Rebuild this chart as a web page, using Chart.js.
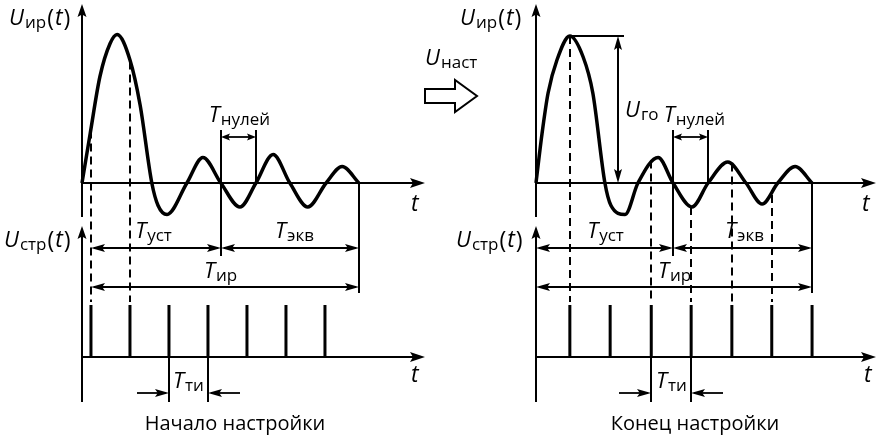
<!DOCTYPE html>
<html>
<head>
<meta charset="utf-8">
<script src="https://cdn.jsdelivr.net/npm/chart.js@4.4.0/dist/chart.umd.min.js"></script>
<style>
  html, body { margin: 0; padding: 0; background: #fff; }
</style>
</head>
<body>
<canvas id="chart" width="882" height="439"></canvas>
<script>
const INK = '#000';
const FONT = '"Open Sans", "Noto Sans", sans-serif';

// time is in pulse periods (T_ти), voltage is a fraction of U_го
const leftWaveT  = [0, 0.21, 0.46, 0.72, 0.90, 1.23, 1.49, 1.79, 1.95, 2.18, 2.69, 3.10, 3.56, 4.05, 4.46, 4.90, 5.33, 5.79, 6.26, 6.67, 7.10];
const leftWaveU  = [0, 0.33, 0.71, 0.93, 0.99, 0.82, 0.52, 0, -0.15, -0.21, 0, 0.17, 0, -0.16, 0, 0.19, 0, -0.16, 0, 0.11, 0];
const rightWaveT = [0, 0.15, 0.30, 0.52, 0.84, 1.17, 1.41, 1.71, 1.86, 2.21, 2.53, 3.03, 3.40, 3.87, 4.27, 4.76, 5.21, 5.61, 6.00, 6.43, 6.85];
const rightWaveU = [0, 0.33, 0.60, 0.82, 0.98, 0.84, 0.60, 0, -0.15, -0.21, 0, 0.17, 0, -0.16, 0, 0.14, 0, -0.14, 0, 0.11, 0];

// strobe pulses
const leftPulseT  = [0.23, 1.23, 2.23, 3.23, 4.23, 5.23, 6.23];
const rightPulseT = [0.84, 1.84, 2.86, 3.85, 4.86, 5.85, 6.85];

// dashed projections (time, level where they leave the curve)
const leftDashT  = [0.23, 1.23];
const leftDashU  = [0.35, 0.81];
const rightDashT = [0.84, 2.86, 3.85, 4.86, 5.85];
const rightDashU = [0.98, 0.15, -0.16, 0.13, -0.08];

// [start, end of settling, end of process]
const leftSpan  = [0.23, 3.56, 7.10];
const rightSpan = [0, 3.40, 6.85];
const leftZeros  = [3.56, 4.46];
const rightZeros = [3.40, 4.27];
const leftTick  = [2.23, 3.23];
const rightTick = [2.86, 3.85];
const rightPeak = [0.84, 0.98]; // time, U_го

const axisSubs = ['ир', 'стр'];
const spanSubs = ['уст', 'экв', 'ир', 'нулей', 'ти'];
const captions = ['Начало настройки', 'Конец настройки'];

// ---- layout (pixels) ----
const W = 882, H = 439;
const PX = {
  left:  { origin: 82,  unit: 39.0, axisEnd: 425 },
  right: { origin: 536, unit: 40.3, axisEnd: 876 },
  upper: { zero: 183, unit: 150 },
  lower: { zero: 357, unit: 52 },
  upTop: 4, upBottom: 217, lowTop: 226, lowBottom: 402,
  zerosY: 137, zerosTop: 130, settleBottom: 256, endBottom: 293,
  row1: 248, row2: 287, tickY: 393, tickArm: 32,
};
const LBL = {
  left:  { uTop: [9, 25], uLow: [4, 247], tUp: [411, 211], tLow: [411, 382], zeros: [240, 122],
           settle: [154, 238], equiv: [295, 238], total: [221, 278], tick: [189, 388], caption: [235, 430] },
  right: { uTop: [460, 25], uLow: [456, 247], tUp: [862, 211], tLow: [864, 382], zeros: [695, 122],
           settle: [606, 238], equiv: [745, 238], total: [675, 278], tick: [672, 388], caption: [695, 430],
           ugo: [625, 117], ust: [425, 65] },
};
const blockArrow = [[425, 89], [455, 89], [455, 80], [477, 96], [455, 112], [455, 103], [425, 103]];

function xScale(p) {
  const min = -p.origin / p.unit;
  return { type: 'linear', axis: 'x', display: false, bounds: 'data', min, max: min + W / p.unit };
}
function yScale(p) {
  const min = -(H - p.zero) / p.unit;
  return { type: 'linear', axis: 'y', display: false, bounds: 'data', min, max: min + H / p.unit };
}

function pts(ts, us) { return ts.map((t, i) => ({ x: t, y: us[i] })); }
function pulses(ts) {
  const out = [];
  ts.forEach(t => { out.push({ x: t, y: 0 }, { x: t, y: 1 }, { x: t, y: null }); });
  return out;
}

// ---- drawing helpers ----
function seg(ctx, x1, y1, x2, y2, w, dash) {
  ctx.beginPath();
  ctx.lineWidth = w;
  ctx.setLineDash(dash || []);
  ctx.moveTo(x1, y1);
  ctx.lineTo(x2, y2);
  ctx.stroke();
  ctx.setLineDash([]);
}
function head(ctx, x, y, dx, dy, len, half) {
  const bx = x - dx * len, by = y - dy * len;
  const nx = -dy, ny = dx;
  ctx.beginPath();
  ctx.moveTo(x, y);
  ctx.lineTo(bx + nx * half, by + ny * half);
  ctx.lineTo(x - dx * len * 0.8, y - dy * len * 0.8);
  ctx.lineTo(bx - nx * half, by - ny * half);
  ctx.closePath();
  ctx.fill();
}
function dim(ctx, x1, x2, y, len, half) {
  seg(ctx, x1 + 3, y, x2 - 3, y, 1.8);
  head(ctx, x1, y, -1, 0, len, half);
  head(ctx, x2, y, 1, 0, len, half);
}
function rich(ctx, parts, x, y, align) {
  const fonts = { i: `italic 22px ${FONT}`, b: `italic 23px ${FONT}`, s: `17px ${FONT}`,
                  p: `23px ${FONT}`, r: `20px ${FONT}` };
  const dy = { i: 0, b: 0, s: 3, p: 1, r: 0 };
  const gap = { i: 1, b: 1, s: 1, p: 1, r: 0 };
  let w = 0;
  parts.forEach(([t, st]) => { ctx.font = fonts[st]; w += ctx.measureText(t).width + gap[st]; });
  let cx = align === 'center' ? x - w / 2 : x;
  ctx.textAlign = 'left';
  ctx.textBaseline = 'alphabetic';
  parts.forEach(([t, st]) => {
    ctx.font = fonts[st];
    ctx.fillText(t, cx, y + dy[st]);
    cx += ctx.measureText(t).width + gap[st];
  });
}
const fn = sub => [['U', 'i'], [sub, 's'], ['(', 'p'], ['t', 'b'], [')', 'p']];
const per = sub => [['T', 'i'], [sub, 's']];

function drawPanel(ctx, xs, yU, yD, d, lb) {
  const px = t => Math.round(xs.getPixelForValue(t));
  const X0 = px(0);
  const zU = yU.getPixelForValue(0), zD = yD.getPixelForValue(0);
  const pTop = yD.getPixelForValue(1);
  const end = d.axisEnd;

  // axes
  seg(ctx, X0, PX.upTop + 8, X0, PX.upBottom, 2);
  head(ctx, X0, PX.upTop, 0, -1, 13, 4.5);
  seg(ctx, X0, zU, end - 8, zU, 2);
  head(ctx, end, zU, 1, 0, 15, 5);
  seg(ctx, X0, PX.lowTop + 8, X0, PX.lowBottom, 2);
  head(ctx, X0, PX.lowTop, 0, -1, 13, 4.5);
  seg(ctx, X0, zD, end - 8, zD, 2);
  head(ctx, end, zD, 1, 0, 15, 5);

  // dashed projections from curve to strobe pulses
  d.dashT.forEach((t, i) => {
    seg(ctx, px(t), yU.getPixelForValue(d.dashU[i]), px(t), pTop - 3, 2, [8, 5]);
  });

  // extension lines
  const xs0 = px(d.span[0]), xSet = px(d.span[1]), xEnd = px(d.span[2]);
  const xZ1 = px(d.zeros[0]), xZ2 = px(d.zeros[1]);
  seg(ctx, xZ1, PX.zerosTop, xZ1, PX.settleBottom, 2);
  seg(ctx, xZ2, PX.zerosTop, xZ2, zU, 2);
  seg(ctx, xEnd, zU, xEnd, PX.endBottom, 2);
  const xa = px(d.tick[0]), xb = px(d.tick[1]);
  seg(ctx, xa, zD, xa, PX.lowBottom, 2);
  seg(ctx, xb, zD, xb, PX.lowBottom, 2);

  // dimension arrows
  dim(ctx, xs0, xSet, PX.row1, 14, 4);
  dim(ctx, xSet, xEnd, PX.row1, 14, 4);
  dim(ctx, xs0, xEnd, PX.row2, 14, 4);
  dim(ctx, xZ1, xZ2, PX.zerosY, 9, 3.5);
  seg(ctx, xa - PX.tickArm, PX.tickY, xa - 3, PX.tickY, 1.8);
  head(ctx, xa, PX.tickY, 1, 0, 14, 4);
  seg(ctx, xb + 3, PX.tickY, xb + PX.tickArm, PX.tickY, 1.8);
  head(ctx, xb, PX.tickY, -1, 0, 14, 4);

  // labels
  rich(ctx, fn(axisSubs[0]), lb.uTop[0], lb.uTop[1]);
  rich(ctx, fn(axisSubs[1]), lb.uLow[0], lb.uLow[1]);
  rich(ctx, [['t', 'b']], lb.tUp[0], lb.tUp[1]);
  rich(ctx, [['t', 'b']], lb.tLow[0], lb.tLow[1]);
  rich(ctx, per(spanSubs[0]), lb.settle[0], lb.settle[1], 'center');
  rich(ctx, per(spanSubs[1]), lb.equiv[0], lb.equiv[1], 'center');
  rich(ctx, per(spanSubs[2]), lb.total[0], lb.total[1], 'center');
  rich(ctx, per(spanSubs[3]), lb.zeros[0], lb.zeros[1], 'center');
  rich(ctx, per(spanSubs[4]), lb.tick[0], lb.tick[1], 'center');
  rich(ctx, [[d.caption, 'r']], lb.caption[0], lb.caption[1], 'center');
}

const diagram = {
  id: 'diagram',
  afterDatasetsDraw(chart) {
    const ctx = chart.ctx, s = chart.scales;
    ctx.save();
    ctx.strokeStyle = INK;
    ctx.fillStyle = INK;
    ctx.lineCap = 'butt';

    drawPanel(ctx, s.xL, s.yU, s.yD,
      { axisEnd: PX.left.axisEnd, dashT: leftDashT, dashU: leftDashU, span: leftSpan,
        zeros: leftZeros, tick: leftTick, caption: captions[0] }, LBL.left);
    drawPanel(ctx, s.xR, s.yU, s.yD,
      { axisEnd: PX.right.axisEnd, dashT: rightDashT, dashU: rightDashU, span: rightSpan,
        zeros: rightZeros, tick: rightTick, caption: captions[1] }, LBL.right);

    // U_го: level line and double arrow
    const gx = Math.round(s.xR.getPixelForValue(rightPeak[0]));
    const gy = s.yU.getPixelForValue(rightPeak[1]);
    const z = s.yU.getPixelForValue(0);
    seg(ctx, gx, gy, gx + 54, gy, 2);
    seg(ctx, gx + 48, gy + 4, gx + 48, z - 4, 2);
    head(ctx, gx + 48, gy, 0, -1, 14, 4);
    head(ctx, gx + 48, z, 0, 1, 14, 4);
    rich(ctx, [['U', 'i'], ['го', 's']], LBL.right.ugo[0], LBL.right.ugo[1]);

    // tuning arrow
    rich(ctx, [['U', 'i'], ['наст', 's']], LBL.right.ust[0], LBL.right.ust[1]);
    ctx.beginPath();
    blockArrow.forEach(([x, y], i) => (i ? ctx.lineTo(x, y) : ctx.moveTo(x, y)));
    ctx.closePath();
    ctx.fillStyle = '#fff';
    ctx.fill();
    ctx.lineWidth = 2;
    ctx.lineJoin = 'miter';
    ctx.stroke();

    ctx.restore();
  },
};

const wave = { showLine: true, pointRadius: 0, borderColor: INK, borderWidth: 3.5,
  cubicInterpolationMode: 'monotone', tension: 0.4, fill: false, yAxisID: 'yU' };
const pulse = { showLine: true, pointRadius: 0, borderColor: INK, borderWidth: 3,
  tension: 0, fill: false, spanGaps: false, yAxisID: 'yD' };

new Chart(document.getElementById('chart'), {
  type: 'scatter',
  data: {
    datasets: [
      { ...wave, data: pts(leftWaveT, leftWaveU), xAxisID: 'xL' },
      { ...wave, data: pts(rightWaveT, rightWaveU), xAxisID: 'xR' },
      { ...pulse, data: pulses(leftPulseT), xAxisID: 'xL' },
      { ...pulse, data: pulses(rightPulseT), xAxisID: 'xR' },
    ],
  },
  options: {
    responsive: false,
    animation: false,
    layout: { padding: 0 },
    plugins: { legend: { display: false }, tooltip: { enabled: false }, title: { display: false } },
    events: [],
    scales: {
      xL: xScale(PX.left),
      xR: xScale(PX.right),
      yU: yScale(PX.upper),
      yD: yScale(PX.lower),
    },
  },
  plugins: [diagram],
});
</script>
</body>
</html>
